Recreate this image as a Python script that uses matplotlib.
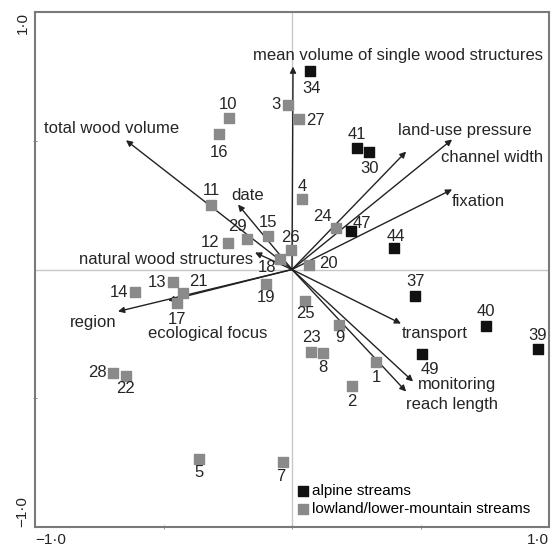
import matplotlib
matplotlib.use('Agg')
import matplotlib.pyplot as plt
from matplotlib.ticker import FixedLocator

plt.rcParams['font.family'] = ['Liberation Sans', 'DejaVu Sans']

# site scores
alpine_ids = [34, 41, 30, 47, 44, 37, 40, 39, 49]
alpine_x = [0.070, 0.253, 0.300, 0.230, 0.397, 0.479, 0.755, 0.957, 0.506]
alpine_y = [0.769, 0.470, 0.455, 0.148, 0.082, -0.101, -0.221, -0.307, -0.330]

lowland_ids = [1, 2, 3, 4, 5, 7, 8, 9, 10, 11, 12, 13, 14, 15, 16, 17, 18, 19,
               20, 21, 22, 23, 24, 25, 26, 27, 28, 29]
lowland_x = [0.327, 0.233, -0.016, 0.039, -0.362, -0.035, 0.121, 0.183, -0.245,
             -0.315, -0.249, -0.463, -0.611, -0.093, -0.284, -0.447, -0.047,
             -0.101, 0.066, -0.424, -0.646, 0.074, 0.171, 0.051, -0.004, 0.027,
             -0.696, -0.175]
lowland_y = [-0.361, -0.454, 0.637, 0.272, -0.734, -0.746, -0.326, -0.214, 0.590,
             0.252, 0.101, -0.050, -0.089, 0.132, 0.526, -0.132, 0.039, -0.058,
             0.019, -0.093, -0.412, -0.319, 0.163, -0.121, 0.074, 0.583, -0.400,
             0.120]

# variable loadings (arrows)
var_names = ['mean volume of single wood structures', 'total wood volume', 'date',
             'natural wood structures', 'land-use pressure', 'channel width',
             'fixation', 'region', 'ecological focus', 'transport', 'monitoring',
             'reach length']
var_x = [0.004, -0.646, -0.210, -0.144, 0.444, 0.623, 0.623, -0.677, -0.482,
         0.424, 0.471, 0.444]
var_y = [0.788, 0.502, 0.252, 0.066, 0.458, 0.505, 0.311, -0.163, -0.121,
         -0.210, -0.435, -0.474]

# label placement, pixel offsets from the marker / arrow tip
point_off = {34: (2, -17), 41: (0, 14), 30: (0, -16), 47: (11, 8), 44: (2, 12),
             37: (0, 14), 40: (0, 15), 39: (0, 13), 49: (8, -15), 1: (0, -15),
             2: (0, -15), 3: (-12, 1), 4: (0, 13), 5: (0, -14), 7: (-2, -15),
             8: (0, -14), 9: (1, -13), 10: (-1, 13), 11: (0, 14), 12: (-18, 1),
             13: (-16, 0), 14: (-16, 0), 15: (0, 13), 16: (0, -18), 17: (0, -16),
             18: (-13, -8), 19: (0, -13), 20: (19, 1), 21: (15, 12), 22: (0, -13),
             23: (0, 14), 24: (-14, 11), 25: (0, -13), 26: (-1, 13), 27: (16, -1),
             28: (-16, 0), 29: (-10, 12)}
var_off = [(105, 11), (-14, 12), (10, 9), (-89, -7), (59, 21), (40, -18),
           (26, -12), (-25, -11), (40, -33), (34, -10), (44, -3), (46, -13)]

fig = plt.figure(figsize=(5.56, 5.48), dpi=100)
ax = fig.add_axes([35/556, 21/548, 514/556, 515/548])
ax.set_xlim(-1, 1)
ax.set_ylim(-1, 1)

ax.axhline(0, color='#c8c8c8', lw=1, zorder=0)
ax.axvline(0, color='#c8c8c8', lw=1, zorder=0)

txt_col = '#252525'
for name, x, y, (dx, dy) in zip(var_names, var_x, var_y, var_off):
    ax.annotate('', xy=(x, y), xytext=(0, 0),
                arrowprops=dict(arrowstyle='-|>', lw=1, color='#222222',
                                mutation_scale=9, shrinkA=0, shrinkB=0))
    ax.annotate(name, xy=(x, y), xytext=(dx, dy), textcoords='offset pixels',
                ha='center', va='center', fontsize=12, color=txt_col)

ax.scatter(alpine_x, alpine_y, marker='s', s=42, color='#111111', zorder=3,
           label='alpine streams')
ax.scatter(lowland_x, lowland_y, marker='s', s=42, color='#8a8a8a', zorder=3,
           label='lowland/lower-mountain streams')

for ids, xs, ys in [(alpine_ids, alpine_x, alpine_y), (lowland_ids, lowland_x, lowland_y)]:
    for i, x, y in zip(ids, xs, ys):
        dx, dy = point_off[i]
        ax.annotate(str(i), xy=(x, y), xytext=(dx, dy), textcoords='offset pixels',
                    ha='center', va='center', fontsize=12, color=txt_col)

leg = ax.legend(loc='lower left', bbox_to_anchor=(0.486, 0.0), frameon=False,
                fontsize=11, handletextpad=0.1, handlelength=1.0,
                borderaxespad=0.3, labelspacing=0.3)

for s in ax.spines.values():
    s.set_color('#7a7a7a')
    s.set_linewidth(1.5)

ax.set_xticks([-1, 1])
ax.set_xticklabels(['\u22121\u00b70', '1\u00b70'], fontsize=11, color=txt_col)
xl = ax.get_xticklabels()
xl[0].set_ha('left')
xl[1].set_ha('right')
ax.set_yticks([-1, 1])
ax.set_yticklabels(['\u22121\u00b70', '1\u00b70'], fontsize=11, color=txt_col,
                   rotation=90)
yl = ax.get_yticklabels()
yl[0].set_va('bottom')
yl[1].set_va('top')
ax.xaxis.set_minor_locator(FixedLocator([-0.5, 0, 0.5]))
ax.yaxis.set_minor_locator(FixedLocator([-0.5, 0.5]))
ax.tick_params(which='major', length=0, pad=4)
ax.tick_params(which='minor', length=3, direction='inout', color='#7a7a7a')

fig.savefig('out.png', dpi=100)
